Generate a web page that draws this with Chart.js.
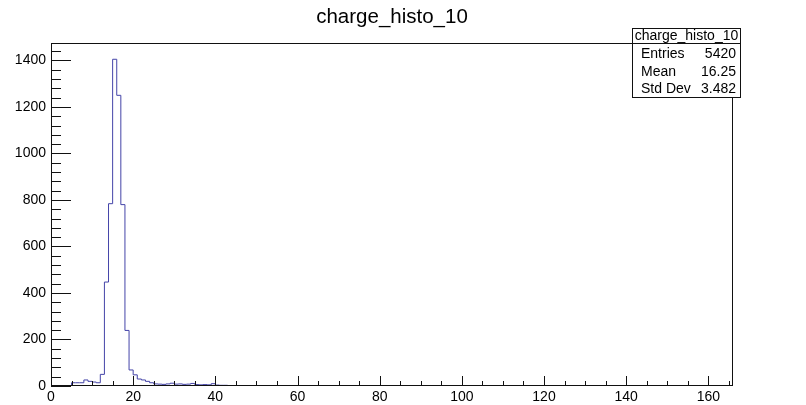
<!DOCTYPE html>
<html>
<head>
<meta charset="utf-8">
<title>charge_histo_10</title>
<script src="https://cdn.jsdelivr.net/npm/chart.js@4/dist/chart.umd.min.js"></script>
<style>
  body { margin: 0; background: #fff; }
  canvas { display: block; }
</style>
</head>
<body>
<canvas id="histo" width="806" height="405"></canvas>
<script>
// charge_histo_10 : bins de ancho 1 empezando en 0
const binStart = 0;
const binWidth = 1;
const counts = [
  0, 1, 2, 1, 1, 14, 14, 14, 26, 20,
  17, 14, 50, 447, 784, 1405, 1250, 780, 239, 69,
  48, 30, 26, 20, 14, 9, 8, 7, 9, 12,
  8, 9, 7, 8, 11, 6, 5, 6, 5, 10,
  4, 3, 3, 2, 2
];
const xRange = [0, 166];
const yRange = [0, 1475];
const xTickLabels = [0, 20, 40, 60, 80, 100, 120, 140, 160];
const yTickLabels = [0, 200, 400, 600, 800, 1000, 1200, 1400];
const xMinorStep = 5;
const yMinorStep = 40;
const histTitle = 'charge_histo_10';
const statNames = ['Entries', 'Mean', 'Std Dev'];
const statValues = ['5420', '16.25', '3.482'];

const FONT = '"Liberation Sans", Arial, Helvetica, sans-serif';
Chart.defaults.font.family = FONT;
Chart.defaults.color = '#000';

// puntos del contorno: borde izquierdo de cada bin + cierre al final
function puntosHisto() {
  const pts = counts.map((c, i) => ({ x: binStart + i * binWidth, y: c }));
  pts.push({ x: binStart + counts.length * binWidth, y: counts[counts.length - 1] });
  pts.push({ x: binStart + counts.length * binWidth, y: 0 });
  return pts;
}

// marco, ticks estilo ROOT, titulo y caja de estadisticas
const marcoRoot = {
  id: 'marcoRoot',
  afterDraw(chart) {
    const { ctx, chartArea: a, scales: { x, y } } = chart;
    ctx.save();
    ctx.strokeStyle = '#111';
    ctx.lineWidth = 1;
    ctx.strokeRect(a.left + 0.5, a.top + 0.5, a.right - a.left - 1, a.bottom - a.top - 1);

    ctx.beginPath();
    for (let v = xRange[0]; v <= xRange[1]; v += xMinorStep) {
      const px = Math.round(x.getPixelForValue(v)) + 0.5;
      const len = v % 20 === 0 ? 10 : 5;
      ctx.moveTo(px, a.bottom);
      ctx.lineTo(px, a.bottom - len);
    }
    for (let v = yRange[0]; v <= yRange[1]; v += yMinorStep) {
      const py = Math.round(y.getPixelForValue(v)) + 0.5;
      const len = v % 200 === 0 ? 20 : 10;
      ctx.moveTo(a.left, py);
      ctx.lineTo(a.left + len, py);
    }
    ctx.stroke();

    // titulo
    ctx.fillStyle = '#000';
    ctx.font = '20.5px ' + FONT;
    ctx.textAlign = 'center';
    ctx.textBaseline = 'alphabetic';
    ctx.fillText(histTitle, (a.left + a.right) / 2, 23);

    // caja de estadisticas
    const bx = 632, by = 28, bw = 109, bh = 70, hh = 15;
    ctx.fillStyle = '#fff';
    ctx.fillRect(bx, by, bw, bh);
    ctx.strokeStyle = '#111';
    ctx.strokeRect(bx + 0.5, by + 0.5, bw - 1, bh - 1);
    ctx.beginPath();
    ctx.moveTo(bx, by + hh + 0.5);
    ctx.lineTo(bx + bw, by + hh + 0.5);
    ctx.stroke();

    ctx.fillStyle = '#000';
    ctx.font = '14px ' + FONT;
    ctx.textBaseline = 'middle';
    ctx.textAlign = 'center';
    ctx.fillText(histTitle, bx + bw / 2, by + 8.5);
    const filas = [54.5, 72.5, 89.5];
    statNames.forEach((n, i) => {
      ctx.textAlign = 'left';
      ctx.fillText(n, bx + 9, filas[i]);
      ctx.textAlign = 'right';
      ctx.fillText(statValues[i], bx + bw - 5, filas[i]);
    });
    ctx.restore();
  }
};

const ctx = document.getElementById('histo').getContext('2d');
new Chart(ctx, {
  type: 'line',
  data: {
    datasets: [{
      label: histTitle,
      data: puntosHisto(),
      borderColor: '#4444a8',
      borderWidth: 1,
      pointRadius: 0,
      stepped: 'before',
      fill: false
    }]
  },
  options: {
    responsive: false,
    animation: false,
    devicePixelRatio: 1,
    layout: { padding: { top: 43, right: 73, left: 0, bottom: 0 } },
    plugins: {
      legend: { display: false },
      tooltip: { enabled: false }
    },
    scales: {
      x: {
        type: 'linear',
        min: xRange[0],
        max: xRange[1],
        grid: { display: false, drawTicks: false },
        border: { display: false },
        afterBuildTicks: s => { s.ticks = xTickLabels.map(v => ({ value: v })); },
        afterFit: s => { s.height = 19; },
        ticks: { font: { size: 14 }, padding: 3, maxRotation: 0, autoSkip: false, callback: v => String(v) }
      },
      y: {
        min: yRange[0],
        max: yRange[1],
        grid: { display: false, drawTicks: false },
        border: { display: false },
        afterBuildTicks: s => { s.ticks = yTickLabels.map(v => ({ value: v })); },
        afterFit: s => { s.width = 51; },
        ticks: { font: { size: 14 }, padding: 5, callback: v => String(v) }
      }
    }
  },
  plugins: [marcoRoot]
});
</script>
</body>
</html>
